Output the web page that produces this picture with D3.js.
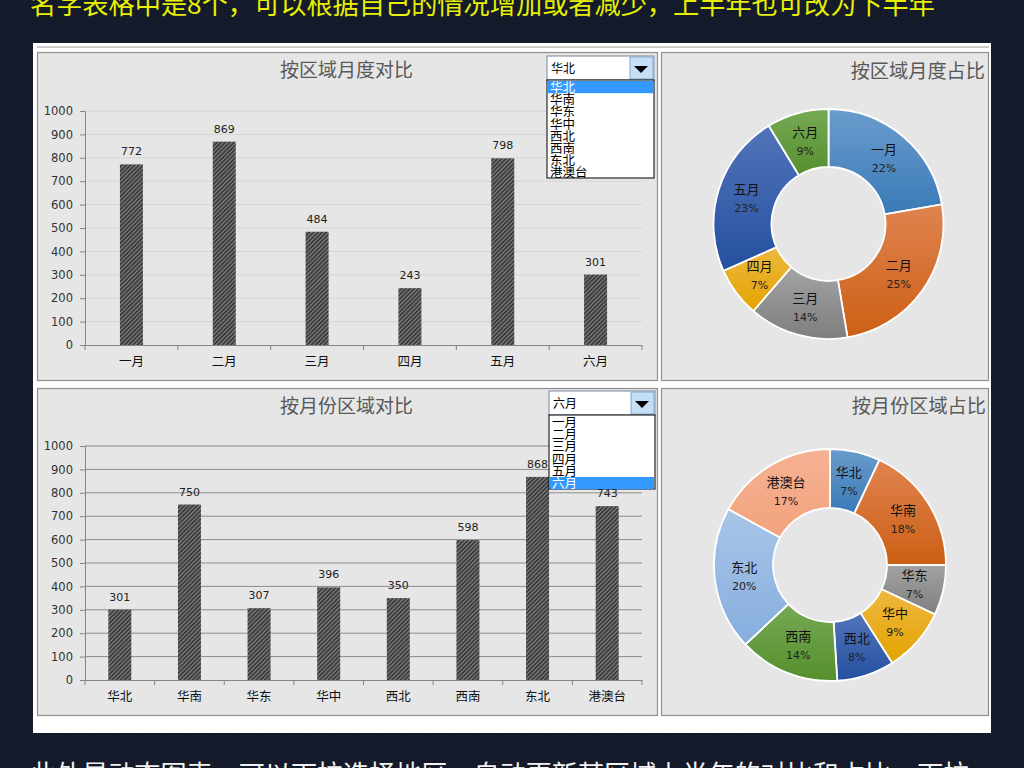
<!DOCTYPE html>
<html>
<head>
<meta charset="utf-8">
<script src="https://cdnjs.cloudflare.com/ajax/libs/d3/7.8.5/d3.min.js"></script>
<style>
  html, body { margin: 0; padding: 0; background: #141a2a; overflow: hidden; }
  svg { display: block; }
  text { font-family: "Noto Sans CJK SC", "DejaVu Sans", sans-serif; }
  .num { font-family: "DejaVu Sans", sans-serif; }
</style>
</head>
<body>
<svg id="chart" width="1024" height="768"></svg>
<script>
const months = ["一月", "二月", "三月", "四月", "五月", "六月"];
const regions = ["华北", "华南", "华东", "华中", "西北", "西南", "东北", "港澳台"];
const monthValues = [772, 869, 484, 243, 798, 301];
const regionValues = [301, 750, 307, 396, 350, 598, 868, 743];
const monthShares = [22.3, 25.1, 14, 7, 23, 8.7];
const regionShares = [7, 18, 7, 9, 8, 14, 20, 17];
const yTicks = [0, 100, 200, 300, 400, 500, 600, 700, 800, 900, 1000];
const lightColors = ["#6a9ccd", "#e08350", "#a3a3a3", "#efb840", "#5374ba", "#76a955", "#a8c5e8", "#f6b294"];
const darkColors = ["#3a7ab8", "#cc5f14", "#7e7e7e", "#e2a300", "#23509f", "#558f2d", "#86aede", "#f2a27c"];

const svg = d3.select("#chart");
const defs = svg.append("defs");

// dark textured page background
const bgPattern = defs.append("pattern").attr("id", "bg")
  .attr("width", 3).attr("height", 3).attr("patternUnits", "userSpaceOnUse");
bgPattern.append("rect").attr("width", 3).attr("height", 3).attr("fill", "#141a2a");
bgPattern.append("rect").attr("width", 1).attr("height", 1).attr("fill", "#1a2132");

// hatch for the bars
const hatch = defs.append("pattern").attr("id", "hatch")
  .attr("width", 3).attr("height", 3).attr("patternUnits", "userSpaceOnUse")
  .attr("patternTransform", "rotate(45)");
hatch.append("rect").attr("width", 3).attr("height", 3).attr("fill", "#3e3e3e");
hatch.append("rect").attr("width", 1).attr("height", 3).attr("fill", "#858585");

lightColors.forEach((c, i) => {
  const g = defs.append("linearGradient").attr("id", "slice" + i)
    .attr("x1", 0).attr("y1", 0).attr("x2", 0).attr("y2", 1);
  g.append("stop").attr("offset", "0%").attr("stop-color", c);
  g.append("stop").attr("offset", "100%").attr("stop-color", darkColors[i]);
});

svg.append("rect").attr("width", 1024).attr("height", 768).attr("fill", "url(#bg)");

// captions above and below, both cut by the page edge
svg.append("text").attr("x", 30).attr("y", 14)
  .attr("font-size", 26.2).attr("fill", "#e6f000")
  .text("名字表格中是8个，可以根据自己的情况增加或者减少，上半年也可改为下半年");
svg.append("text").attr("x", 30).attr("y", 784)
  .attr("font-size", 26.1).attr("fill", "#f2f2f2")
  .text("此外是动态图表，可以下拉选择地区，自动更新某区域上半年的对比和占比，下拉");

// white sheet
svg.append("rect").attr("x", 33).attr("y", 43).attr("width", 958).attr("height", 690).attr("fill", "#fff");
svg.append("line").attr("x1", 37).attr("x2", 989).attr("y1", 47).attr("y2", 47)
  .attr("stroke", "#9a9a9a").attr("stroke-width", 1);

function panel(x, y, w, h) {
  svg.append("rect").attr("x", x).attr("y", y).attr("width", w).attr("height", h)
    .attr("fill", "#e6e6e6").attr("stroke", "#8f8f8f").attr("stroke-width", 1.2);
}

function barChart(cats, values, title, top, bottom, titleY, gridColor) {
  const x = d3.scaleBand().domain(cats).range([85, 642]);
  const y = d3.scaleLinear().domain([0, 1000]).range([bottom, top]);
  const g = svg.append("g");

  g.append("text").attr("x", 346.5).attr("y", titleY).attr("text-anchor", "middle")
    .attr("font-size", 19).attr("fill", "#595959").text(title);

  g.selectAll(".grid").data(yTicks.slice(1)).join("line")
    .attr("x1", 85).attr("x2", 642)
    .attr("y1", d => y(d)).attr("y2", d => y(d))
    .attr("stroke", gridColor).attr("stroke-width", 1);

  g.selectAll(".bar").data(values).join("rect")
    .attr("x", (d, i) => x(cats[i]) + x.bandwidth() / 2 - 11.5)
    .attr("y", d => y(d))
    .attr("width", 23)
    .attr("height", d => bottom - y(d))
    .attr("fill", "url(#hatch)");

  g.selectAll(".val").data(values).join("text")
    .attr("class", "num")
    .attr("x", (d, i) => x(cats[i]) + x.bandwidth() / 2)
    .attr("y", d => y(d) - 9)
    .attr("text-anchor", "middle")
    .attr("font-size", 11).attr("fill", "#222")
    .text(d => d);

  const yAxis = g.append("g").attr("transform", "translate(85,0)")
    .call(d3.axisLeft(y).tickValues(yTicks).tickFormat(d3.format("d")).tickSize(5).tickPadding(7));
  yAxis.selectAll("text").attr("class", "num").attr("font-size", 11.5).attr("fill", "#333")
    .style("font-family", '"DejaVu Sans", sans-serif');
  yAxis.selectAll("path,line").attr("stroke", "#858585");

  const xAxis = g.append("g").attr("transform", `translate(0,${bottom})`)
    .call(d3.axisBottom(x).tickSize(0).tickPadding(12));
  xAxis.selectAll("text").attr("font-size", 12.5).attr("fill", "#111")
    .style("font-family", '"Noto Sans CJK SC", sans-serif');
  xAxis.select("path").attr("stroke", "#858585");

  // category ticks sit between the bars
  g.selectAll(".catTick").data(cats.concat([null])).join("line")
    .attr("x1", (d, i) => 85 + i * x.step()).attr("x2", (d, i) => 85 + i * x.step())
    .attr("y1", bottom).attr("y2", bottom + 5)
    .attr("stroke", "#858585");
}

function donut(cats, shares, title, cx, cy, outer, inner, titleRight, titleY) {
  const g = svg.append("g");
  g.append("text").attr("x", titleRight).attr("y", titleY).attr("text-anchor", "end")
    .attr("font-size", 19.2).attr("fill", "#595959").text(title);

  const pie = d3.pie().sort(null)(shares);
  const arc = d3.arc().innerRadius(inner).outerRadius(outer);
  const slices = g.append("g").attr("transform", `translate(${cx},${cy})`);

  slices.selectAll("path").data(pie).join("path")
    .attr("d", arc)
    .attr("fill", (d, i) => `url(#slice${i})`)
    .attr("stroke", "#fff").attr("stroke-width", 1.8);

  slices.selectAll(".name").data(pie).join("text")
    .attr("x", d => arc.centroid(d)[0])
    .attr("y", d => arc.centroid(d)[1] - 4)
    .attr("text-anchor", "middle")
    .attr("font-size", 13).attr("fill", "#111")
    .text((d, i) => cats[i]);

  slices.selectAll(".pct").data(pie).join("text")
    .attr("class", "num")
    .attr("x", d => arc.centroid(d)[0])
    .attr("y", d => arc.centroid(d)[1] + 14)
    .attr("text-anchor", "middle")
    .attr("font-size", 11).attr("fill", "#222")
    .text(d => Math.round(d.value) + "%");
}

function dropdown(items, selected, x, y, w, listTop, listBottom) {
  const g = svg.append("g");
  const rowH = 12.2;
  g.append("rect").attr("x", x).attr("y", y).attr("width", w).attr("height", listTop - y)
    .attr("fill", "#fff").attr("stroke", "#8d99ad").attr("stroke-width", 1.2);
  g.append("rect").attr("x", x + w - 24).attr("y", y + 1).attr("width", 23).attr("height", listTop - y - 2)
    .attr("fill", "#c5dff5").attr("stroke", "#7fa8d0");
  g.append("path").attr("fill", "#000")
    .attr("d", d3.line()([[x + w - 20, y + 10], [x + w - 6, y + 10], [x + w - 13, y + 17]]));
  g.append("text").attr("x", x + 4).attr("y", y + 17).attr("font-size", 12).attr("fill", "#000").text(selected);

  g.append("rect").attr("x", x).attr("y", listTop).attr("width", w).attr("height", listBottom - listTop)
    .attr("fill", "#fff").attr("stroke", "#000").attr("stroke-width", 1);
  const row = d3.scaleBand().domain(items).range([listTop + 1, listTop + 1 + items.length * rowH]);
  g.append("rect").attr("x", x + 1).attr("y", row(selected)).attr("width", w - 2).attr("height", rowH)
    .attr("fill", "#3399ff");
  g.selectAll(".item").data(items).join("text")
    .attr("x", x + 3)
    .attr("y", d => row(d) + 11)
    .attr("font-size", 12.5)
    .attr("fill", d => d === selected ? "#fff" : "#000")
    .text(d => d);
}

panel(37.5, 52.5, 620, 328);
panel(661.5, 52.5, 327, 328);
panel(37.5, 388.5, 620, 327);
panel(661.5, 388.5, 327, 327);

barChart(months, monthValues, "按区域月度对比", 111, 345, 77, "#d4d4d4");
barChart(regions, regionValues, "按月份区域对比", 446, 680, 413, "#8c8c8c");

donut(months, monthShares, "按区域月度占比", 828.5, 224, 115, 57, 985, 78);
donut(regions, regionShares, "按月份区域占比", 830, 565, 116, 57, 986, 413);

dropdown(regions, "华北", 547, 56, 107, 80, 178);
dropdown(months, "六月", 549, 391, 106, 415, 489);
</script>
</body>
</html>
